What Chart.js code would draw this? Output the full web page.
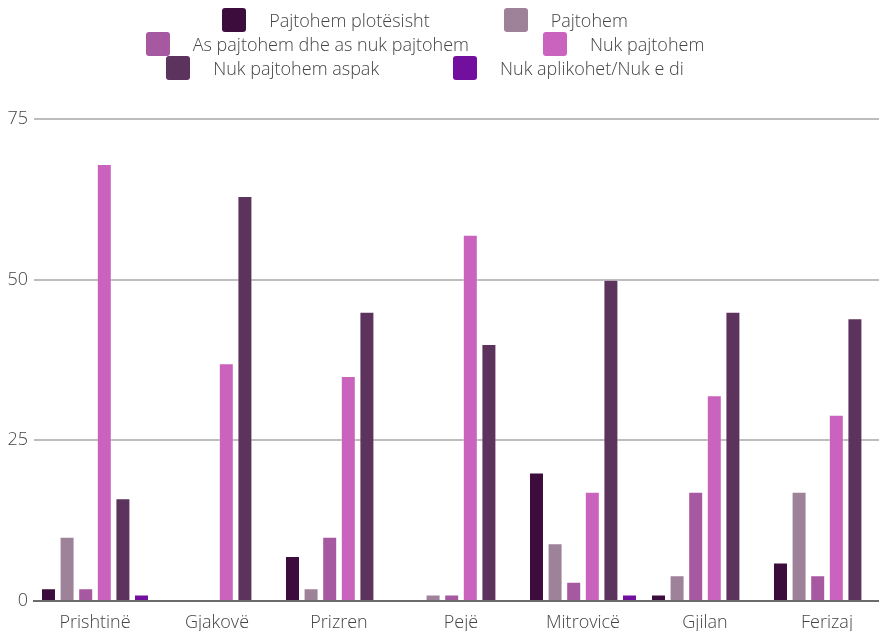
<!DOCTYPE html>
<html>
<head>
<meta charset="utf-8">
<script src="https://cdn.jsdelivr.net/npm/chart.js@4.4.1/dist/chart.umd.min.js"></script>
<style>
    html, body { margin: 0; padding: 0; background: #fff; overflow: hidden; }
    #wrap { position: relative; width: 879px; height: 631px; overflow: hidden; }
    #survey-chart { position: absolute; left: 0; top: 0; }
    #legend {
        position: absolute; left: 0; top: 8px; width: 850px;
        font-family: "Open Sans", sans-serif; font-size: 18px; font-weight: 300; color: #444;
    }
    .legend-row { display: flex; justify-content: center; align-items: center; height: 24px; }
    .legend-item { display: flex; align-items: center; }
    .legend-box { width: 24px; height: 24px; border-radius: 3px; margin-right: 23px; }
</style>
</head>
<body>
<div id="wrap">
    <!-- the plot runs a little past the right edge, so the canvas is wider than the page -->
    <canvas id="survey-chart" width="888" height="631"></canvas>
    <div id="legend"></div>
</div>
<script>
const cities = ['Prishtinë', 'Gjakovë', 'Prizren', 'Pejë', 'Mitrovicë', 'Gjilan', 'Ferizaj'];

const answerLabels = [
    'Pajtohem plotësisht',
    'Pajtohem',
    'As pajtohem dhe as nuk pajtohem',
    'Nuk pajtohem',
    'Nuk pajtohem aspak',
    'Nuk aplikohet/Nuk e di'
];

const stronglyAgree = [2, 0, 7, 0, 20, 1, 6];
const agree = [10, 0, 2, 1, 9, 4, 17];
const neutral = [2, 0, 10, 1, 3, 17, 4];
const disagree = [68, 37, 35, 57, 17, 32, 29];
const stronglyDisagree = [16, 63, 45, 40, 50, 45, 44];
const notApplicable = [1, 0, 0, 0, 1, 0, 0];

const yTicks = [0, 25, 50, 75];

const answerColors = ['#3c0d3c', '#9e8299', '#a659a0', '#c963bd', '#5c335c', '#720f9e'];

// two answers per legend row
const legendRows = [[0, 1], [2, 3], [4, 5]];
const legendGap = 74;

const seriesValues = [stronglyAgree, agree, neutral, disagree, stronglyDisagree, notApplicable];

const tickFont = { family: 'Open Sans', size: 18, weight: 300 };

function buildDatasets() {
    return seriesValues.map((values, i) => ({
        label: answerLabels[i],
        data: values,
        backgroundColor: answerColors[i],
        borderColor: 'rgba(255, 255, 255, 0.35)',
        borderWidth: 1,
        categoryPercentage: 0.915,
        barPercentage: 0.806
    }));
}

function renderLegend(chart) {
    const el = document.getElementById('legend');
    el.innerHTML = '';
    legendRows.forEach(pair => {
        const row = document.createElement('div');
        row.className = 'legend-row';
        pair.forEach((idx, n) => {
            const ds = chart.data.datasets[idx];
            const item = document.createElement('div');
            item.className = 'legend-item';
            if (n === 1) item.style.marginLeft = legendGap + 'px';
            const box = document.createElement('span');
            box.className = 'legend-box';
            box.style.background = ds.backgroundColor;
            const txt = document.createElement('span');
            txt.textContent = ds.label;
            item.appendChild(box);
            item.appendChild(txt);
            row.appendChild(item);
        });
        el.appendChild(row);
    });
}

function createSurveyChart(ctx) {
    return new Chart(ctx, {
        type: 'bar',
        data: {
            labels: cities,
            datasets: buildDatasets()
        },
        options: {
            responsive: false,
            animation: false,
            layout: { padding: { top: 119, right: 0, left: 0, bottom: 0 } },
            plugins: {
                legend: { display: false },
                tooltip: { enabled: false }
            },
            scales: {
                x: {
                    grid: { display: false },
                    border: { display: true, color: '#6b6b6b', width: 2 },
                    afterFit: axis => { axis.height = 30; },
                    ticks: {
                        color: '#444',
                        padding: 3,
                        font: tickFont
                    }
                },
                y: {
                    min: 0,
                    max: 75,
                    afterBuildTicks: axis => { axis.ticks = yTicks.map(v => ({ value: v })); },
                    afterFit: axis => { axis.width = 34; },
                    grid: {
                        color: ctx => ctx.tick.value === 0 ? 'rgba(0,0,0,0)' : '#bdbdbd',
                        lineWidth: 2,
                        drawTicks: false
                    },
                    border: { display: false },
                    ticks: {
                        color: '#444',
                        padding: 6,
                        font: tickFont
                    }
                }
            }
        }
    });
}

document.addEventListener('DOMContentLoaded', function () {
    const ctx = document.getElementById('survey-chart').getContext('2d');
    const chart = createSurveyChart(ctx);
    renderLegend(chart);
});
</script>
</body>
</html>
